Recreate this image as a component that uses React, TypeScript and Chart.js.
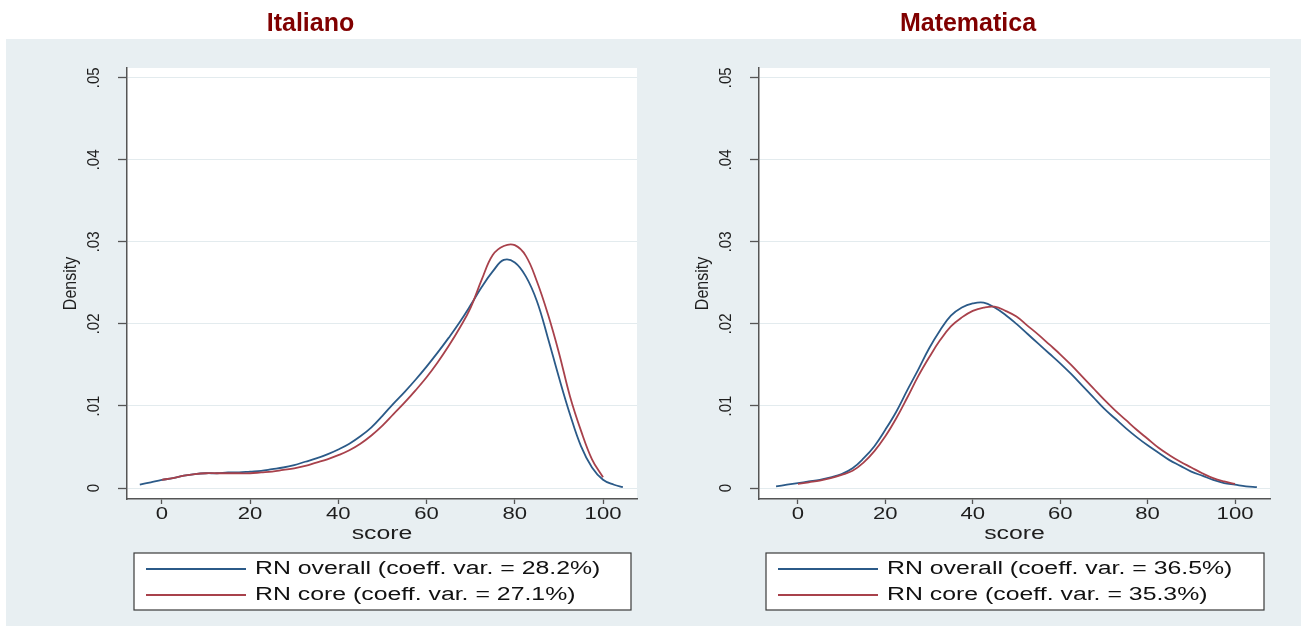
import React, { useEffect, useRef } from 'react';
import { Chart, registerables } from 'chart.js';

Chart.register(...registerables);

// ---------------- data ----------------
const xTickValues = [0, 20, 40, 60, 80, 100];
const xTickLabels = ['0', '20', '40', '60', '80', '100'];
const yTickValues = [0, 0.01, 0.02, 0.03, 0.04, 0.05];
const yTickLabels = ['0', '.01', '.02', '.03', '.04', '.05'];

const panelTitles = ['Italiano', 'Matematica'];
const xAxisTitle = 'score';
const yAxisTitle = 'Density';

const italianoLegend = ['RN overall (coeff. var. = 28.2%)', 'RN core (coeff. var. = 27.1%)'];
const matematicaLegend = ['RN overall (coeff. var. = 36.5%)', 'RN core (coeff. var. = 35.3%)'];

const italianoOverallScore = [-5, -2.5, 0, 2.5, 5, 7.5, 10, 12.5, 15, 17.5, 20, 22.5, 25, 27.5, 30, 32.5, 35, 37.5, 40, 42.5, 45, 47.5, 50, 52.5, 55, 57.5, 60, 62.5, 65, 67.5, 70, 72.5, 75, 77.5, 80, 82.5, 85, 87.5, 90, 92.5, 95, 97.5, 100, 102.5, 104.5];
const italianoOverallDensity = [0.0004, 0.0007, 0.0010, 0.0012, 0.0015, 0.0017, 0.0018, 0.0018, 0.0019, 0.0019, 0.0020, 0.0021, 0.0023, 0.0025, 0.0028, 0.0032, 0.0036, 0.0041, 0.0047, 0.0054, 0.0063, 0.0074, 0.0088, 0.0103, 0.0117, 0.0132, 0.0148, 0.0165, 0.0183, 0.0202, 0.0223, 0.0245, 0.0264, 0.0278, 0.0275, 0.0258, 0.0228, 0.0183, 0.0135, 0.0090, 0.0051, 0.0025, 0.0010, 0.0004, 0.0001];

const italianoCoreScore = [0, 2.5, 5, 7.5, 10, 12.5, 15, 17.5, 20, 22.5, 25, 27.5, 30, 32.5, 35, 37.5, 40, 42.5, 45, 47.5, 50, 52.5, 55, 57.5, 60, 62.5, 65, 67.5, 70, 72.5, 75, 77.5, 80, 82.5, 85, 87.5, 90, 92.5, 95, 97.5, 100];
const italianoCoreDensity = [0.0010, 0.0012, 0.0015, 0.0017, 0.0018, 0.0018, 0.0018, 0.0018, 0.0018, 0.0019, 0.0020, 0.0022, 0.0024, 0.0027, 0.0031, 0.0035, 0.0040, 0.0046, 0.0054, 0.0064, 0.0076, 0.0090, 0.0104, 0.0119, 0.0135, 0.0153, 0.0173, 0.0195, 0.0220, 0.0254, 0.0284, 0.0295, 0.0296, 0.0283, 0.0252, 0.0212, 0.0165, 0.0112, 0.0070, 0.0035, 0.0013];

const matematicaOverallScore = [-5, -2.5, 0, 2.5, 5, 7.5, 10, 12.5, 15, 17.5, 20, 22.5, 25, 27.5, 30, 32.5, 35, 37.5, 40, 42.5, 45, 47.5, 50, 52.5, 55, 57.5, 60, 62.5, 65, 67.5, 70, 72.5, 75, 77.5, 80, 82.5, 85, 87.5, 90, 92.5, 95, 97.5, 100, 102.5, 105];
const matematicaOverallDensity = [0.0002, 0.0004, 0.0006, 0.0008, 0.0010, 0.0013, 0.0017, 0.0024, 0.0036, 0.0051, 0.0071, 0.0093, 0.0119, 0.0144, 0.0170, 0.0192, 0.0210, 0.0220, 0.0225, 0.0226, 0.0220, 0.0211, 0.0200, 0.0188, 0.0176, 0.0164, 0.0152, 0.0139, 0.0125, 0.0111, 0.0097, 0.0085, 0.0073, 0.0062, 0.0052, 0.0043, 0.0034, 0.0027, 0.0020, 0.0015, 0.0010, 0.0006, 0.0004, 0.0002, 0.0001];

const matematicaCoreScore = [0, 2.5, 5, 7.5, 10, 12.5, 15, 17.5, 20, 22.5, 25, 27.5, 30, 32.5, 35, 37.5, 40, 42.5, 45, 47.5, 50, 52.5, 55, 57.5, 60, 62.5, 65, 67.5, 70, 72.5, 75, 77.5, 80, 82.5, 85, 87.5, 90, 92.5, 95, 97.5, 100];
const matematicaCoreDensity = [0.0005, 0.0007, 0.0009, 0.0012, 0.0016, 0.0021, 0.0031, 0.0045, 0.0063, 0.0085, 0.0110, 0.0136, 0.0159, 0.0180, 0.0197, 0.0208, 0.0216, 0.0220, 0.0221, 0.0216, 0.0209, 0.0198, 0.0187, 0.0175, 0.0163, 0.0150, 0.0136, 0.0122, 0.0108, 0.0095, 0.0083, 0.0071, 0.0060, 0.0049, 0.0040, 0.0032, 0.0025, 0.0018, 0.0012, 0.0008, 0.0005];

// ---------------- styling / layout ----------------
const FONT = "'Liberation Sans', Arial, Helvetica, sans-serif";
const BLUE = '#2b5a88';
const RED = '#a8414b';
const AXIS = '#555555';
const TEXT = '#1e1e1e';
const PANEL_BG = '#e8eff2';
const GRID = '#e3ebee';
const SX = 1.38; // horizontal stretch of horizontal text in the original export
const SXR = 1.15; // horizontal stretch of rotated text

const PAGE_W = 1307;
const PAGE_H = 628;
const PLOT_TOP = 68;
const X_AXIS_H = 53;
const LEGEND_BOTTOM_PAD = 14;

function stretchText(ctx: CanvasRenderingContext2D) {
  if ((ctx as any).__stretched) return;
  (ctx as any).__stretched = true;
  const orig = ctx.fillText.bind(ctx);
  (ctx as any).fillText = (text: string, x: number, y: number, maxWidth?: number) => {
    if (/bold/.test(ctx.font)) {
      if (maxWidth === undefined) orig(text, x, y);
      else orig(text, x, y, maxWidth);
      return;
    }
    const t = ctx.getTransform();
    const rotated = Math.abs(t.b) > 1e-6 || Math.abs(t.c) > 1e-6;
    const f = rotated ? SXR : SX;
    const a = t.transformPoint(new DOMPoint(x, y));
    const n = new DOMMatrix()
      .translateSelf(a.x, a.y)
      .scaleSelf(f, 1)
      .translateSelf(-a.x, -a.y)
      .multiplySelf(t);
    ctx.save();
    ctx.setTransform(n);
    orig(text, x, y);
    ctx.restore();
  };
}

const framePlugin = {
  id: 'statFrame',
  afterLayout(chart: any) {
    const lg = chart.legend;
    if (!lg) return;
    const dx = chart.chartArea.left + 11 - lg.left;
    lg.left += dx;
    lg.right += dx;
  },
  beforeDraw(chart: any) {
    const { ctx, chartArea: a } = chart;
    ctx.save();
    ctx.fillStyle = '#ffffff';
    ctx.fillRect(a.left, a.top, a.right - a.left, a.bottom - a.top);
    const lg = chart.legend;
    if (lg) {
      const bx = a.left + 7;
      const by = lg.top + 1;
      const bw = a.right - 6 - bx;
      const bh = 57;
      ctx.fillRect(bx, by, bw, bh);
      ctx.strokeStyle = '#3a3a3a';
      ctx.lineWidth = 1.2;
      ctx.strokeRect(bx, by, bw, bh);
    }
    ctx.restore();
  },
};

type PanelProps = {
  title: string;
  canvasLeft: number;
  canvasWidth: number;
  plotLeft: number;
  plotRight: number;
  xMin: number;
  xMax: number;
  overallX: number[];
  overallY: number[];
  coreX: number[];
  coreY: number[];
  legend: string[];
};

function toPoints(xs: number[], ys: number[]) {
  return xs.map((x, i) => ({ x, y: ys[i] }));
}

function DensityPanel(p: PanelProps) {
  const ref = useRef<HTMLCanvasElement | null>(null);

  useEffect(() => {
    const canvas = ref.current;
    if (!canvas) return;
    const ctx = canvas.getContext('2d') as CanvasRenderingContext2D;
    stretchText(ctx);

    const plotLeftC = p.plotLeft - p.canvasLeft;
    const plotRightC = p.plotRight - p.canvasLeft;
    const padRight = p.canvasWidth - plotRightC;

    const chart = new Chart(ctx, {
      type: 'line',
      data: {
        datasets: [
          {
            label: p.legend[0],
            data: toPoints(p.overallX, p.overallY),
            borderColor: BLUE,
            backgroundColor: BLUE,
            borderWidth: 1.8,
            pointRadius: 0,
            tension: 0.4,
            order: 1,
          },
          {
            label: p.legend[1],
            data: toPoints(p.coreX, p.coreY),
            borderColor: RED,
            backgroundColor: RED,
            borderWidth: 1.8,
            pointRadius: 0,
            tension: 0.4,
            order: 0,
          },
        ],
      },
      options: {
        responsive: false,
        animation: false,
        devicePixelRatio: 1,
        events: [],
        layout: { padding: { left: 0, right: padRight, top: 0, bottom: LEGEND_BOTTOM_PAD } },
        plugins: {
          tooltip: { enabled: false },
          title: {
            display: true,
            text: p.title,
            color: '#800000',
            font: { family: FONT, size: 25, weight: 'bold', lineHeight: 1.2 },
            padding: { top: 9, bottom: PLOT_TOP - 9 - 30 },
          },
          legend: {
            display: true,
            position: 'bottom',
            align: 'start',
            fullSize: false,
            labels: {
              usePointStyle: true,
              pointStyle: 'line',
              pointStyleWidth: 100,
              padding: 8,
              color: '#111111',
              font: { family: FONT, size: 18 },
              sort: (a: any, b: any) => a.datasetIndex - b.datasetIndex,
            },
          },
        },
        scales: {
          x: {
            type: 'linear',
            min: p.xMin,
            max: p.xMax,
            afterBuildTicks: (s: any) => {
              s.ticks = xTickValues.map((v) => ({ value: v }));
            },
            afterFit: (s: any) => {
              s.height = X_AXIS_H;
            },
            ticks: {
              autoSkip: false,
              maxRotation: 0,
              minRotation: 0,
              padding: 1,
              color: TEXT,
              font: { family: FONT, size: 16 },
              callback: (_v: any, i: number) => xTickLabels[i],
            },
            grid: {
              display: true,
              drawOnChartArea: false,
              drawTicks: true,
              tickLength: 5,
              tickColor: AXIS,
              tickWidth: 1.3,
            },
            border: { display: true, color: AXIS, width: 1.5 },
            title: {
              display: true,
              text: xAxisTitle,
              color: TEXT,
              font: { family: FONT, size: 18 },
              padding: { top: 0, bottom: 7 },
            },
          },
          y: {
            type: 'linear',
            min: -0.00134,
            max: 0.0512,
            afterBuildTicks: (s: any) => {
              s.ticks = yTickValues.map((v) => ({ value: v }));
            },
            afterFit: (s: any) => {
              s.width = plotLeftC;
            },
            ticks: {
              minRotation: 90,
              maxRotation: 90,
              crossAlign: 'center',
              padding: 13,
              color: TEXT,
              font: { family: FONT, size: 15 },
              callback: (_v: any, i: number) => yTickLabels[i],
            },
            grid: {
              color: GRID,
              lineWidth: 1,
              drawTicks: true,
              tickLength: 9,
              tickColor: AXIS,
              tickWidth: 1.3,
            },
            border: { display: true, color: AXIS, width: 1.5 },
            title: {
              display: true,
              text: yAxisTitle,
              color: TEXT,
              font: { family: FONT, size: 16 },
              padding: { top: plotLeftC - 56 - 9.6, bottom: 0 },
            },
          },
        },
      },
      plugins: [framePlugin],
    } as any);

    return () => chart.destroy();
  }, []);

  return (
    <canvas
      ref={ref}
      width={p.canvasWidth}
      height={PAGE_H}
      style={{ position: 'absolute', left: p.canvasLeft, top: 0, width: p.canvasWidth, height: PAGE_H }}
    />
  );
}

export default function App() {
  useEffect(() => {
    document.body.style.margin = '0';
    document.body.style.overflow = 'hidden';
    document.documentElement.style.overflow = 'hidden';
  }, []);

  return (
    <div style={{ position: 'relative', width: PAGE_W, height: PAGE_H, overflow: 'hidden', background: '#ffffff' }}>
      <div style={{ position: 'absolute', left: 6, top: 39, width: 1295, height: 587, background: PANEL_BG }} />
      <DensityPanel
        title={panelTitles[0]}
        canvasLeft={-16}
        canvasWidth={669}
        plotLeft={127}
        plotRight={637}
        xMin={-7.9}
        xMax={107.7}
        overallX={italianoOverallScore}
        overallY={italianoOverallDensity}
        coreX={italianoCoreScore}
        coreY={italianoCoreDensity}
        legend={italianoLegend}
      />
      <DensityPanel
        title={panelTitles[1]}
        canvasLeft={666}
        canvasWidth={641}
        plotLeft={759}
        plotRight={1270}
        xMin={-8.9}
        xMax={108.0}
        overallX={matematicaOverallScore}
        overallY={matematicaOverallDensity}
        coreX={matematicaCoreScore}
        coreY={matematicaCoreDensity}
        legend={matematicaLegend}
      />
    </div>
  );
}
